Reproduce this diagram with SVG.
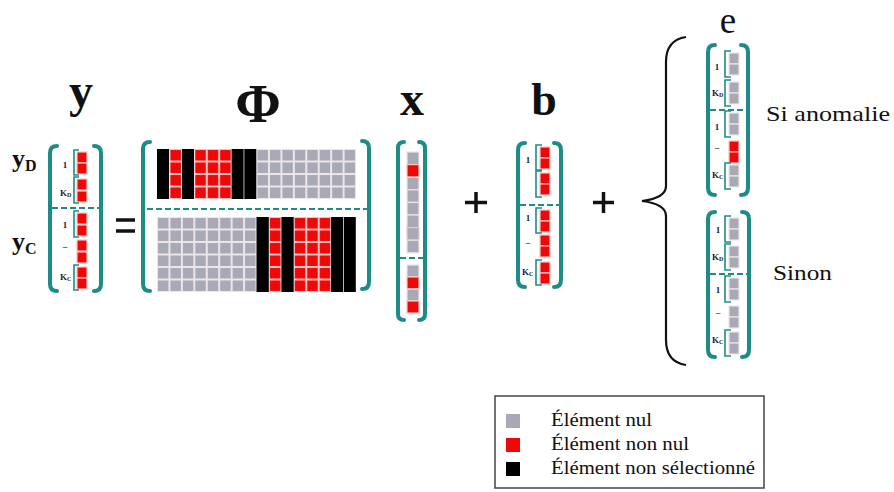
<svg xmlns="http://www.w3.org/2000/svg" width="894" height="492" viewBox="0 0 894 492">
<style>
.br{fill:none;stroke:#1e8c86;stroke-width:4;stroke-linecap:round;stroke-linejoin:round}
.sb{fill:none;stroke:#1e8c86;stroke-width:1.6}
.dash{stroke:#1e8c86;stroke-width:2;stroke-dasharray:6 3}
.g{fill:#a9a8b5;stroke:#ece4e8;stroke-width:1.2}
.r{fill:#ee0808;stroke:#f2c6c6;stroke-width:1.2}
.k{fill:#000}
.hd{font-family:"Liberation Serif",serif;font-weight:bold;fill:#111}
.lb{font-family:"Liberation Serif",serif;font-weight:bold;fill:#1a1a40;font-size:9px}
.tx{font-family:"Liberation Serif",serif;fill:#111}
.op{stroke:#111;stroke-width:3.5;fill:none}
</style>
<defs>
<pattern id="pgT" patternUnits="userSpaceOnUse" x="157" y="149" width="12.44" height="12.5"><rect width="12.44" height="12.5" fill="#ece6ea"/><rect x="1" y="1" width="10.44" height="10.5" fill="#a9a8b5"/></pattern>
<pattern id="prT" patternUnits="userSpaceOnUse" x="157" y="149" width="12.44" height="12.5"><rect width="12.44" height="12.5" fill="#f3c4c4"/><rect x="1" y="1" width="10.44" height="10.5" fill="#ee0808"/></pattern>
<pattern id="pgB" patternUnits="userSpaceOnUse" x="157" y="217" width="12.44" height="12.5"><rect width="12.44" height="12.5" fill="#ece6ea"/><rect x="1" y="1" width="10.44" height="10.5" fill="#a9a8b5"/></pattern>
<pattern id="prB" patternUnits="userSpaceOnUse" x="157" y="217" width="12.44" height="12.5"><rect width="12.44" height="12.5" fill="#f3c4c4"/><rect x="1" y="1" width="10.44" height="10.5" fill="#ee0808"/></pattern>
</defs>
<rect width="894" height="492" fill="#fff"/>

<!-- headers -->
<g id="headers">
<text class="hd" x="81" y="107" font-size="48" text-anchor="middle">y</text>
<text class="hd" x="258" y="122" font-size="55" text-anchor="middle">Φ</text>
<text class="hd" x="412" y="115" font-size="48" text-anchor="middle">x</text>
<text class="hd" x="544" y="115" font-size="46" text-anchor="middle">b</text>
<text class="hd" x="728" y="33" text-anchor="middle" style="font-size:37px;font-weight:normal">e</text>
<text class="hd" x="12" y="167" font-size="26">y<tspan font-size="16" dy="4">D</tspan></text>
<text class="hd" x="12" y="250" font-size="26">y<tspan font-size="16" dy="4">C</tspan></text>
</g>

<!-- y vector -->
<g id="node-y">
<path class="br" d="M57,146 Q50,146 50,153 L50,284 Q50,291 57,291"/>
<path class="br" d="M94,146 Q101,146 101,153 L101,284 Q101,291 94,291"/>
<line class="dash" x1="52" y1="208" x2="100" y2="208"/>
<rect class="r" x="77" y="152" width="10" height="11"/><rect class="r" x="77" y="163" width="10" height="11"/>
<rect class="r" x="77" y="179" width="10" height="11"/><rect class="r" x="77" y="191" width="10" height="11"/>
<rect class="r" x="77" y="213" width="10" height="11"/><rect class="r" x="77" y="225" width="10" height="11"/>
<rect class="r" x="77" y="240" width="10" height="11"/><rect class="r" x="77" y="252" width="10" height="11"/>
<rect class="r" x="77" y="267" width="10" height="11"/><rect class="r" x="77" y="278" width="10" height="11"/>
<path class="sb" d="M79,150 L74,150 L74,175 L79,175"/>
<path class="sb" d="M79,177 L74,177 L74,203 L79,203"/>
<path class="sb" d="M79,211 L74,211 L74,237 L79,237"/>
<path class="sb" d="M79,265 L74,265 L74,290 L79,290"/>
<text class="lb" x="65" y="168" text-anchor="middle">1</text>
<text class="lb" x="60" y="196" font-size="8">K<tspan font-size="6" dy="1">D</tspan></text>
<text class="lb" x="65" y="228" text-anchor="middle">1</text>
<text class="lb" x="65" y="249" text-anchor="middle">–</text>
<text class="lb" x="60" y="280" font-size="8">K<tspan font-size="6" dy="1">C</tspan></text>
</g>

<!-- Phi matrix -->
<g id="node-phi">
<path class="br" d="M150,142 Q143,142 143,149 L143,284 Q143,291 150,291"/>
<path class="br" d="M362,141 Q369,141 369,148 L369,282 Q369,289 362,289"/>
<rect x="256.5" y="149" width="99.5" height="50" fill="url(#pgT)"/>
<rect x="169.4" y="149" width="12.44" height="50" fill="url(#prT)"/>
<rect x="194.3" y="149" width="37.3" height="50" fill="url(#prT)"/>
<rect class="k" x="157" y="149" width="12" height="50"/>
<rect class="k" x="182" y="149" width="12" height="50"/>
<rect class="k" x="231.6" y="149" width="12" height="50"/>
<rect class="k" x="244.3" y="149" width="12" height="50"/>
<line class="dash" x1="147" y1="209" x2="367" y2="209"/>
<rect x="157" y="217" width="99.5" height="75" fill="url(#pgB)"/>
<rect x="268.9" y="217" width="12.44" height="75" fill="url(#prB)"/>
<rect x="293.8" y="217" width="37.3" height="75" fill="url(#prB)"/>
<rect class="k" x="256.5" y="217" width="12.3" height="75"/>
<rect class="k" x="281.4" y="217" width="12.3" height="75"/>
<rect class="k" x="331.1" y="217" width="12" height="75"/>
<rect class="k" x="343.8" y="217" width="12" height="75"/>
</g>

<!-- x vector -->
<g id="node-x">
<path class="br" d="M404,142 Q398,142 398,148 L398,314 Q398,320 404,320"/>
<path class="br" d="M419,142 Q425,142 425,148 L425,314 Q425,320 419,320"/>
<rect class="g" x="407" y="152" width="12" height="12.6"/>
<rect class="r" x="407" y="164.6" width="12" height="12.6"/>
<rect class="g" x="407" y="177.2" width="12" height="12.6"/>
<rect class="g" x="407" y="189.8" width="12" height="12.6"/>
<rect class="g" x="407" y="202.4" width="12" height="12.6"/>
<rect class="g" x="407" y="215" width="12" height="12.6"/>
<rect class="g" x="407" y="227.6" width="12" height="12.6" style="stroke:#f0c8c8"/>
<rect class="g" x="407" y="240.2" width="12" height="12.6"/>
<line class="dash" x1="400" y1="258" x2="424" y2="258"/>
<rect class="g" x="407" y="265" width="12" height="12"/>
<rect class="r" x="407" y="277" width="12" height="12"/>
<rect class="g" x="407" y="289" width="12" height="12"/>
<rect class="r" x="407" y="301" width="12" height="12"/>
</g>

<!-- b vector -->
<g id="node-b">
<path class="br" d="M525,143 Q518,143 518,150 L518,280 Q518,287 525,287"/>
<path class="br" d="M554,143 Q561,143 561,150 L561,280 Q561,287 554,287"/>
<line class="dash" x1="520" y1="205" x2="559" y2="205"/>
<rect class="r" x="540" y="147" width="10" height="11"/><rect class="r" x="540" y="158" width="10" height="11"/>
<rect class="r" x="540" y="173" width="10" height="11"/><rect class="r" x="540" y="184" width="10" height="11"/>
<rect class="r" x="540" y="210" width="10" height="11"/><rect class="r" x="540" y="221" width="10" height="11"/>
<rect class="r" x="540" y="235" width="10" height="11"/><rect class="r" x="540" y="246" width="10" height="11"/>
<rect class="r" x="540" y="262" width="10" height="11"/><rect class="r" x="540" y="273" width="10" height="11"/>
<path class="sb" d="M542,145 L536,145 L536,170 L542,170"/>
<path class="sb" d="M542,171 L536,171 L536,197 L542,197"/>
<path class="sb" d="M542,208 L536,208 L536,233 L542,233"/>
<path class="sb" d="M542,260 L536,260 L536,285 L542,285"/>
<text class="lb" x="528" y="163" text-anchor="middle">1</text>
<text class="lb" x="528" y="221" text-anchor="middle">1</text>
<text class="lb" x="528" y="245" text-anchor="middle">–</text>
<text class="lb" x="522" y="275" font-size="8">K<tspan font-size="6" dy="1">C</tspan></text>
</g>

<!-- e vector (anomaly) -->
<g id="node-e1">
<path class="br" d="M715,45 Q708,45 708,52 L708,188 Q708,195 715,195"/>
<path class="br" d="M741,45 Q748,45 748,52 L748,188 Q748,195 741,195"/>
<line class="dash" x1="710" y1="110" x2="746" y2="110"/>
<rect class="g" x="729" y="53" width="10" height="11"/><rect class="g" x="729" y="64" width="10" height="11"/>
<rect class="g" x="729" y="82" width="10" height="11"/><rect class="g" x="729" y="93" width="10" height="11"/>
<rect class="g" x="729" y="113" width="10" height="11"/><rect class="g" x="729" y="124" width="10" height="11"/>
<rect class="r" x="729" y="141" width="10" height="11"/><rect class="r" x="729" y="152" width="10" height="11"/>
<rect class="g" x="729" y="165" width="10" height="11"/><rect class="g" x="729" y="176" width="10" height="11"/>
<path class="sb" d="M731,51 L725,51 L725,77 L731,77"/>
<path class="sb" d="M731,80 L725,80 L725,106 L731,106"/>
<path class="sb" d="M731,111 L725,111 L725,137 L731,137"/>
<path class="sb" d="M731,163 L725,163 L725,189 L731,189"/>
<text class="lb" x="717" y="70" text-anchor="middle">1</text>
<text class="lb" x="712" y="96" font-size="8">K<tspan font-size="6" dy="1">D</tspan></text>
<text class="lb" x="717" y="130" text-anchor="middle">1</text>
<text class="lb" x="717" y="150" text-anchor="middle">–</text>
<text class="lb" x="712" y="178" font-size="8">K<tspan font-size="6" dy="1">C</tspan></text>
<text class="tx" x="766" y="121" font-size="22" textLength="124" lengthAdjust="spacingAndGlyphs">Si anomalie</text>
</g>

<!-- e vector (otherwise) -->
<g id="node-e2">
<path class="br" d="M715,212 Q708,212 708,219 L708,350 Q708,357 715,357"/>
<path class="br" d="M742,212 Q749,212 749,219 L749,350 Q749,357 742,357"/>
<line class="dash" x1="710" y1="274" x2="747" y2="274"/>
<rect class="g" x="729" y="218" width="10" height="11"/><rect class="g" x="729" y="229" width="10" height="11"/>
<rect class="g" x="729" y="246" width="10" height="11"/><rect class="g" x="729" y="257" width="10" height="11"/>
<rect class="g" x="729" y="278" width="10" height="11"/><rect class="g" x="729" y="289" width="10" height="11"/>
<rect class="g" x="729" y="306" width="10" height="11"/><rect class="g" x="729" y="317" width="10" height="11"/>
<rect class="g" x="729" y="332" width="10" height="11"/><rect class="g" x="729" y="343" width="10" height="11"/>
<path class="sb" d="M731,216 L725,216 L725,242 L731,242"/>
<path class="sb" d="M731,244 L725,244 L725,270 L731,270"/>
<path class="sb" d="M731,276 L725,276 L725,302 L731,302"/>
<path class="sb" d="M731,330 L725,330 L725,356 L731,356"/>
<text class="lb" x="718" y="233" text-anchor="middle">1</text>
<text class="lb" x="712" y="260" font-size="8">K<tspan font-size="6" dy="1">D</tspan></text>
<text class="lb" x="718" y="293" text-anchor="middle">1</text>
<text class="lb" x="718" y="315" text-anchor="middle">–</text>
<text class="lb" x="712" y="343" font-size="8">K<tspan font-size="6" dy="1">C</tspan></text>
<text class="tx" x="773" y="280" font-size="22" textLength="59" lengthAdjust="spacingAndGlyphs">Sinon</text>
</g>

<!-- operators and brace -->
<g id="connectors">
<line class="op" x1="116" y1="220" x2="135" y2="220"/>
<line class="op" x1="116" y1="231" x2="135" y2="231"/>
<line class="op" x1="465" y1="202.5" x2="487" y2="202.5"/>
<line class="op" x1="476" y1="192" x2="476" y2="213"/>
<line class="op" x1="593" y1="202.5" x2="614" y2="202.5"/>
<line class="op" x1="603.5" y1="192" x2="603.5" y2="213"/>
<path d="M686,37 Q666,40 666,62 L666,186 Q666,198 642,201 Q666,204 666,216 L666,340 Q666,362 686,365" fill="none" stroke="#111" stroke-width="2.2"/>
</g>

<!-- legend -->
<g id="legend">
<rect x="495" y="396" width="269" height="92" fill="#fff" stroke="#444" stroke-width="1.5"/>
<rect x="506" y="414" width="14" height="14" fill="#a9a8b5"/>
<rect x="506" y="438" width="14" height="14" fill="#ee0808"/>
<rect x="506" y="462" width="14" height="14" fill="#000"/>
<text class="tx" x="551" y="426" font-size="19" textLength="101" lengthAdjust="spacingAndGlyphs">Élément nul</text>
<text class="tx" x="551" y="450" font-size="19" textLength="138" lengthAdjust="spacingAndGlyphs">Élément non nul</text>
<text class="tx" x="551" y="474" font-size="19" textLength="204" lengthAdjust="spacingAndGlyphs">Élément non sélectionné</text>
</g>
</svg>
